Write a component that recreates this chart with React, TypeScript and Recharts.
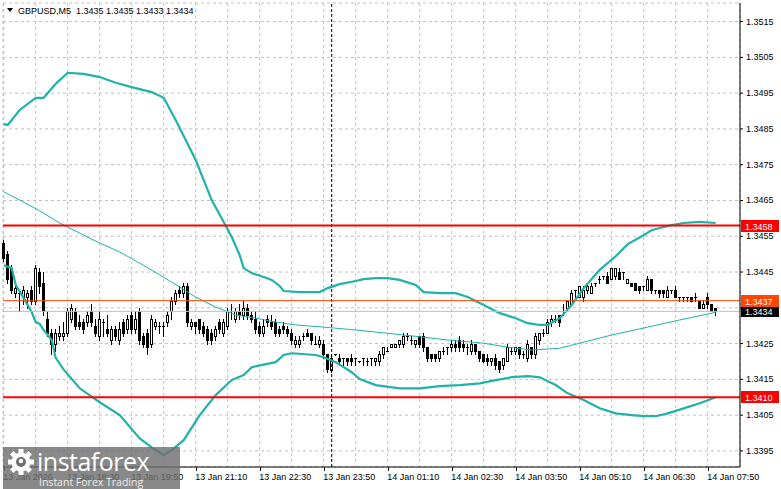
import React from "react";
import { ComposedChart, Bar, Line, XAxis, YAxis, CartesianGrid, ReferenceLine } from "recharts";

const FONT = '"Liberation Sans", Arial, sans-serif';
const TEAL = "#20b2aa";

// M5 candles, 13 Jan 17:10 .. 14 Jan 07:55
const opens = [
  1.3453, 1.3450, 1.3446, 1.3439, 1.3439, 1.3438, 1.3438, 1.3440, 1.3437, 1.3445,
  1.3442, 1.3432, 1.3428, 1.3425, 1.3427, 1.3427, 1.3428, 1.3432, 1.3434, 1.3431,
  1.3431, 1.3431, 1.3434, 1.3430, 1.3427, 1.3431, 1.3429, 1.3426, 1.3429, 1.3426,
  1.3431, 1.3429, 1.3433, 1.3429, 1.3434, 1.3427, 1.3428, 1.3425, 1.3430, 1.3430,
  1.3430, 1.3431, 1.3434, 1.3437, 1.3440, 1.3439, 1.3441, 1.3430, 1.3431, 1.3432,
  1.3430, 1.3429, 1.3428, 1.3427, 1.3431, 1.3428, 1.3430, 1.3434, 1.3432, 1.3434,
  1.3433, 1.3435, 1.3433, 1.3432, 1.3430, 1.3428, 1.3432, 1.3431, 1.3431, 1.3429,
  1.3430, 1.3429, 1.3428, 1.3425, 1.3425, 1.3427, 1.3428, 1.3428, 1.3425, 1.3425,
  1.3425, 1.3422, 1.34175, 1.3422, 1.3421, 1.3421, 1.3421, 1.3421, 1.3421, 1.3420,
  1.3421, 1.3420, 1.3421, 1.3420, 1.3420, 1.3422, 1.3423, 1.3424, 1.3424, 1.3425,
  1.3425, 1.3427, 1.3426, 1.3425, 1.3427, 1.3427, 1.3424, 1.3422, 1.3422, 1.3421,
  1.3423, 1.3424, 1.3424, 1.3425, 1.3426, 1.3425, 1.3424, 1.3423, 1.3425, 1.3423,
  1.3422, 1.3421, 1.3420, 1.3421, 1.3420, 1.3419, 1.3420, 1.3423, 1.3423, 1.3424,
  1.3422, 1.3421, 1.3424, 1.3422, 1.3426, 1.3428, 1.3428, 1.3431, 1.3432, 1.3433,
  1.3434, 1.3435, 1.3436, 1.3440, 1.3438, 1.3438, 1.3440, 1.3439, 1.3442, 1.3443,
  1.3444, 1.3444, 1.3443, 1.3444, 1.3445, 1.3445, 1.3442, 1.3442, 1.3442, 1.3441,
  1.3441, 1.3440, 1.3443, 1.3440, 1.3440, 1.3440, 1.3438, 1.3440, 1.3440, 1.3438,
  1.3438, 1.3438, 1.3438, 1.3438, 1.3437, 1.3435, 1.3438, 1.3436, 1.3435,
];
const highs = [
  1.3454, 1.3451, 1.3447, 1.3441, 1.3440, 1.3441, 1.3440, 1.3441, 1.3447, 1.3446,
  1.3445, 1.3434, 1.3429, 1.3429, 1.3430, 1.3431, 1.3435, 1.3436, 1.3435, 1.3433,
  1.3432, 1.3434, 1.3436, 1.3432, 1.3434, 1.3432, 1.3433, 1.3430, 1.3430, 1.3431,
  1.3432, 1.3433, 1.3434, 1.3434, 1.3435, 1.3428, 1.3429, 1.3433, 1.3432, 1.3431,
  1.3431, 1.3434, 1.3438, 1.3440, 1.3441, 1.3442, 1.3442, 1.3432, 1.3431, 1.3432,
  1.3431, 1.3430, 1.3429, 1.3430, 1.3432, 1.3432, 1.3435, 1.3436, 1.3435, 1.3436,
  1.3437, 1.3436, 1.3434, 1.3434, 1.3431, 1.3432, 1.3433, 1.3433, 1.3432, 1.3430,
  1.3431, 1.3430, 1.3429, 1.3427, 1.3427, 1.3428, 1.3429, 1.3428, 1.3427, 1.3427,
  1.3426, 1.3422, 1.3422, 1.3422, 1.3422, 1.3421, 1.3421, 1.3422, 1.3421, 1.3420,
  1.3421, 1.3421, 1.3421, 1.3421, 1.3423, 1.3424, 1.3424, 1.3425, 1.3425, 1.3426,
  1.3428, 1.3428, 1.3427, 1.3426, 1.3427, 1.3428, 1.3424, 1.3422, 1.3422, 1.3423,
  1.3424, 1.3424, 1.3426, 1.3426, 1.3427, 1.3426, 1.3425, 1.3426, 1.3425, 1.3423,
  1.3422, 1.3422, 1.3421, 1.3422, 1.3420, 1.3421, 1.3425, 1.3424, 1.3424, 1.3424,
  1.3423, 1.3426, 1.3424, 1.3428, 1.3428, 1.3429, 1.3432, 1.3433, 1.3433, 1.3433,
  1.3436, 1.3437, 1.3440, 1.3440, 1.3441, 1.3441, 1.3442, 1.3442, 1.3442, 1.3444,
  1.3444, 1.3445, 1.3446, 1.3446, 1.3446, 1.3445, 1.3443, 1.3442, 1.3442, 1.3441,
  1.3441, 1.3444, 1.3443, 1.3440, 1.3440, 1.3440, 1.3441, 1.3440, 1.3441, 1.3438,
  1.3438, 1.3438, 1.3438, 1.3439, 1.3437, 1.3437, 1.3439, 1.3436, 1.3435,
];
const lows = [
  1.3448, 1.3442, 1.3439, 1.3438, 1.3434, 1.3436, 1.3435, 1.3436, 1.3436, 1.3439,
  1.3433, 1.3427, 1.3422, 1.3423, 1.3426, 1.3426, 1.3427, 1.3431, 1.3429, 1.3429,
  1.3428, 1.3430, 1.3430, 1.3427, 1.3426, 1.3427, 1.3427, 1.3425, 1.3426, 1.3425,
  1.3427, 1.3428, 1.3428, 1.3428, 1.3425, 1.3424, 1.3422, 1.3424, 1.3429, 1.3428,
  1.3427, 1.3430, 1.3432, 1.3436, 1.3438, 1.3438, 1.3430, 1.3429, 1.3428, 1.3428,
  1.3427, 1.3425, 1.3425, 1.3426, 1.3428, 1.3427, 1.3429, 1.3432, 1.3431, 1.3432,
  1.3432, 1.3432, 1.3431, 1.3428, 1.3427, 1.3427, 1.3430, 1.3429, 1.3427, 1.3427,
  1.3428, 1.3427, 1.3425, 1.3424, 1.3424, 1.3426, 1.3427, 1.3425, 1.3425, 1.3424,
  1.3421, 1.3417, 1.3417, 1.34218, 1.3419, 1.3419, 1.3419, 1.3419, 1.3419, 1.34198,
  1.3419, 1.3419, 1.3419, 1.3419, 1.3419, 1.3421, 1.34228, 1.3424, 1.3424, 1.3424,
  1.3424, 1.3426, 1.3425, 1.3424, 1.3424, 1.3423, 1.3420, 1.3420, 1.3420, 1.3420,
  1.3422, 1.3422, 1.3423, 1.3423, 1.3423, 1.3423, 1.3422, 1.3422, 1.3422, 1.3420,
  1.34198, 1.3419, 1.3419, 1.3418, 1.3417, 1.3418, 1.3420, 1.3422, 1.3422, 1.3421,
  1.3421, 1.3420, 1.3421, 1.3421, 1.3425, 1.3427, 1.3428, 1.3430, 1.3431, 1.3430,
  1.3433, 1.3434, 1.3436, 1.3438, 1.3438, 1.3437, 1.3439, 1.3439, 1.3441, 1.3442,
  1.3443, 1.3442, 1.3443, 1.3443, 1.3443, 1.3443, 1.3442, 1.3441, 1.3440, 1.3439,
  1.3440, 1.3440, 1.3439, 1.3439, 1.3438, 1.3438, 1.3438, 1.3439, 1.3438, 1.3437,
  1.3437, 1.3437, 1.3437, 1.3437, 1.3435, 1.3435, 1.3435, 1.3434, 1.3433,
];
const closes = [
  1.3449, 1.3443, 1.3440, 1.34405, 1.3439, 1.3440, 1.3439, 1.3437, 1.3446, 1.3441,
  1.3434, 1.3428, 1.3425, 1.3428, 1.3428, 1.3428, 1.3434, 1.3435, 1.3430, 1.3430,
  1.3429, 1.3433, 1.3431, 1.3428, 1.3432, 1.3431, 1.3428, 1.3429, 1.3427, 1.3429,
  1.3428, 1.3432, 1.3429, 1.3432, 1.3426, 1.3425, 1.3424, 1.3432, 1.3431, 1.3430,
  1.3430, 1.3433, 1.3437, 1.3439, 1.3439, 1.3441, 1.3431, 1.3431, 1.3430, 1.3429,
  1.3428, 1.3426, 1.3426, 1.3429, 1.3429, 1.3431, 1.3434, 1.3434, 1.3434, 1.3433,
  1.3435, 1.3433, 1.3432, 1.3429, 1.3428, 1.3430, 1.3431, 1.3430, 1.3428, 1.3428,
  1.3429, 1.3428, 1.3426, 1.3426, 1.3426, 1.3427, 1.3427, 1.3426, 1.3425, 1.3426,
  1.3422, 1.3418, 1.3421, 1.3422, 1.3420, 1.3421, 1.3420, 1.3420, 1.3421, 1.3420,
  1.3421, 1.3420, 1.3421, 1.3421, 1.3422, 1.3424, 1.3423, 1.3425, 1.3425, 1.3426,
  1.3427, 1.3427, 1.3426, 1.3426, 1.3425, 1.3424, 1.3421, 1.3421, 1.3421, 1.3423,
  1.3423, 1.3424, 1.3425, 1.3424, 1.3424, 1.3424, 1.3424, 1.3425, 1.3423, 1.3421,
  1.3420, 1.3420, 1.3421, 1.3419, 1.3418, 1.3421, 1.3424, 1.3423, 1.3424, 1.3422,
  1.3422, 1.3425, 1.3422, 1.3427, 1.3428, 1.3428, 1.3431, 1.3432, 1.3432, 1.3431,
  1.3434, 1.3437, 1.3439, 1.3440, 1.3441, 1.3440, 1.3441, 1.3441, 1.3442, 1.3443,
  1.3444, 1.3442, 1.3446, 1.3446, 1.3443, 1.3445, 1.3443, 1.3441, 1.3440, 1.3440,
  1.3441, 1.3443, 1.3440, 1.3440, 1.3439, 1.3439, 1.3440, 1.3440, 1.3438, 1.3438,
  1.3438, 1.3438, 1.3437, 1.3438, 1.3435, 1.3436, 1.3436, 1.3434, 1.3434,
];

// Bollinger bands, read as [bar index, price]
const upperBand: [number, number][] = [
  [0, 1.34864], [1, 1.34861], [4, 1.34903], [8, 1.34937], [10, 1.34937], [13, 1.34976],
  [16, 1.35007], [20, 1.35004], [24, 1.34995], [28, 1.34979], [32, 1.34967], [37, 1.34953],
  [40, 1.34937], [43, 1.34875], [48, 1.34763], [52, 1.34651], [55, 1.3459], [57, 1.34548],
  [59, 1.34497], [60, 1.34461], [62, 1.34447], [65, 1.34436], [67, 1.34428], [69, 1.34411],
  [70, 1.34397], [74, 1.34394], [79, 1.34394], [81, 1.34405], [84, 1.34416], [88, 1.34425],
  [90, 1.3443], [93, 1.34433], [96, 1.34433], [99, 1.34428], [103, 1.34414], [105, 1.34394],
  [109, 1.34391], [113, 1.34391], [116, 1.3438], [120, 1.34358], [124, 1.34335], [128, 1.34321],
  [131, 1.34307], [134, 1.34302], [136, 1.34302], [139, 1.34321], [142, 1.34358], [145, 1.34405],
  [149, 1.34456], [153, 1.34494], [156, 1.34528], [160, 1.34553], [162, 1.34567], [164, 1.34573],
  [167, 1.34581], [170, 1.34587], [174, 1.3459], [178, 1.34587],
];
const middleBand: [number, number][] = [
  [0, 1.34674], [4, 1.34651], [9, 1.34621], [14, 1.34587], [20, 1.34553], [24, 1.34531],
  [29, 1.34506], [34, 1.34475], [39, 1.34442], [44, 1.34408], [48, 1.3438], [53, 1.34352],
  [58, 1.3433], [63, 1.34321], [68, 1.3431], [73, 1.34302], [80, 1.34296], [88, 1.34288],
  [100, 1.34274], [111, 1.3426], [120, 1.34251], [126, 1.3424], [132, 1.34232], [139, 1.34237],
  [144, 1.34251], [152, 1.34274], [161, 1.34296], [169, 1.34316], [177, 1.34335], [178, 1.34338],
];
const lowerBand: [number, number][] = [
  [0, 1.34469], [2, 1.34461], [3, 1.34414], [5, 1.34377], [7, 1.34338], [8, 1.3431],
  [9, 1.34305], [10, 1.34288], [12, 1.3426], [13, 1.3421], [15, 1.34177], [19, 1.34125],
  [24, 1.34086], [29, 1.3405], [34, 1.33985], [37, 1.3396], [40, 1.33938], [42, 1.33952],
  [45, 1.3398], [49, 1.3405], [53, 1.34106], [57, 1.34148], [60, 1.34162], [62, 1.34184],
  [68, 1.34198], [70, 1.34218], [72, 1.34223], [78, 1.34218], [80, 1.34212], [83, 1.34198],
  [87, 1.3417], [89, 1.34151], [93, 1.34134], [99, 1.34125], [104, 1.34125], [109, 1.34131],
  [114, 1.34134], [119, 1.34139], [123, 1.34148], [127, 1.34156], [131, 1.34159], [134, 1.34156],
  [138, 1.34134], [141, 1.34111], [145, 1.34092], [149, 1.34069], [153, 1.34055], [157, 1.3405],
  [160, 1.34047], [163, 1.34047], [166, 1.34055], [170, 1.34069], [174, 1.34083], [178, 1.341],
];

// one label every 16 bars
const timeLabels = [
  "13 Jan 2026", "13 Jan 18:30", "13 Jan 19:50", "13 Jan 21:10", "13 Jan 22:30", "13 Jan 23:50",
  "14 Jan 01:10", "14 Jan 02:30", "14 Jan 03:50", "14 Jan 05:10", "14 Jan 06:30", "14 Jan 07:50",
];
const priceTicks = [
  1.3395, 1.3405, 1.3415, 1.3425, 1.3435, 1.3445, 1.3455, 1.3465, 1.3475, 1.3485, 1.3495, 1.3505, 1.3515,
];
const redLevels = [1.3458, 1.341];
const orangeLevel = 1.3437;
const bidPrice = 1.3434;
const dayStartBar = 82; // 14 Jan 00:00
const headerText = "GBPUSD,M5  1.3435 1.3435 1.3433 1.3434";

const pick = (band: [number, number][], i: number) => {
  const hit = band.find((p) => p[0] === i);
  return hit ? hit[1] : null;
};

const data = opens.map((o, i) => ({
  i,
  o,
  h: highs[i],
  l: lows[i],
  c: closes[i],
  range: [lows[i], highs[i]],
  up: pick(upperBand, i),
  mid: pick(middleBand, i),
  lo: pick(lowerBand, i),
}));

const gridTicks = Array.from({ length: 23 }, (_, k) => k * 8);

function Candle(props: any) {
  const { x, y, width, height, payload } = props;
  if (x == null || y == null || !payload) return <g />;
  const top = Math.min(y, y + height);
  const bot = Math.max(y, y + height);
  const { o, h, l, c } = payload;
  const span = h - l;
  const toY = (p: number) => (span > 0 ? top + ((h - p) / span) * (bot - top) : top);
  const k = Math.floor(x + width / 2);
  const yH = Math.round(top);
  const yL = Math.round(bot);
  const yO = Math.round(toY(o));
  const yC = Math.round(toY(c));
  const bTop = Math.min(yO, yC);
  const bBot = Math.max(yO, yC);
  return (
    <g>
      <line x1={k + 0.5} x2={k + 0.5} y1={yH} y2={yL + 1} stroke="#000" strokeWidth={1} />
      {c > o ? (
        <rect x={k - 0.5} y={bTop + 0.5} width={2} height={Math.max(bBot - bTop, 1)} fill="#fff" stroke="#000" strokeWidth={1} />
      ) : (
        <rect x={k - 1} y={bTop} width={3} height={bBot - bTop + 1} fill="#000" />
      )}
    </g>
  );
}

function PriceTick({ x, y, payload }: any) {
  const hidden = [orangeLevel, bidPrice, ...redLevels].some((p) => Math.abs(p - payload.value) < 0.00025);
  if (hidden) return <g />;
  return (
    <text x={x} y={y + 3} fontSize={9} fontFamily={FONT} fill="#000" textAnchor="start">
      {payload.value.toFixed(4)}
    </text>
  );
}

function TimeTick({ x, y, payload }: any) {
  if (payload.value % 16 !== 0) return <g />;
  const label = timeLabels[payload.value / 16];
  const px = Math.round(x) + 0.5;
  return (
    <g>
      <line x1={px} x2={px} y1={y} y2={y + 4} stroke="#000" />
      <text x={x - 0.5} y={y + 13} fontSize={9} fontFamily={FONT} fill="#000" textAnchor="start">
        {label}
      </text>
    </g>
  );
}

function PriceTag({ viewBox, price, bg }: any) {
  if (!viewBox) return <g />;
  const x = viewBox.x + viewBox.width + 1;
  const y = Math.round(viewBox.y);
  return (
    <g>
      <rect x={x} y={y - 6} width={38} height={12} fill={bg} />
      <text x={x + 4} y={y + 3.5} fontSize={9} fontFamily={FONT} fill="#fff">
        {price.toFixed(4)}
      </text>
    </g>
  );
}

function Overlay() {
  const teeth = Array.from({ length: 8 }, (_, k) => k * 45);
  return (
    <svg width={781} height={489} style={{ position: "absolute", left: 0, top: 0, pointerEvents: "none" }}>
      <path d="M7 8 L13 8 L10 12 Z" fill="#000" />
      <text x={18} y={14} fontSize={9} fontFamily={FONT} fill="#000" style={{ whiteSpace: "pre" }}>
        {headerText}
      </text>
      <rect x={3} y={447} width={177} height={42} fill="#6f6f6f" opacity={0.82} />
      <g transform="translate(21 462)">
        {teeth.map((a) => (
          <rect key={a} x={-2.5} y={-13} width={5} height={6} fill="#fff" transform={`rotate(${a})`} />
        ))}
        <circle r={9.5} fill="#fff" />
        <circle r={5} fill="#6f6f6f" />
        <circle r={2.2} cy={-1} fill="#fff" />
      </g>
      <text x={37} y={471} fontSize={25} fontFamily='"Open Sans", sans-serif' fill="#fff" letterSpacing={-0.5}>
        instaforex
      </text>
      <text x={39} y={486} fontSize={10.5} fontFamily='"Open Sans", sans-serif' fill="#eee">
        Instant Forex Trading
      </text>
    </svg>
  );
}

export default function App() {
  return (
    <div style={{ position: "absolute", left: 0, top: 0, width: 781, height: 489, background: "#fff" }}>
      <ComposedChart width={781} height={489} data={data} margin={{ top: 3, right: 0, bottom: 0, left: 3 }}>
        <CartesianGrid stroke="#c0c0c0" strokeDasharray="3 3" />
        <XAxis
          dataKey="i"
          type="number"
          domain={[-0.175, 184.075]}
          ticks={gridTicks}
          interval={0}
          height={22}
          tickSize={0}
          tickMargin={0}
          tickLine={false}
          axisLine={{ stroke: "#000" }}
          tick={<TimeTick />}
        />
        <YAxis
          orientation="right"
          domain={[1.33905, 1.35202]}
          ticks={priceTicks}
          interval={0}
          width={41}
          tickSize={3}
          tickMargin={3}
          tickLine={{ stroke: "#000" }}
          axisLine={{ stroke: "#000" }}
          tick={<PriceTick />}
        />
        <YAxis yAxisId="border" orientation="left" width={0} domain={[0, 1]} tick={false} axisLine={{ stroke: "#000" }} />
        <ReferenceLine x={dayStartBar} stroke="#000" strokeDasharray="3 2" />
        <Bar dataKey="range" barSize={3} shape={(p: any) => <Candle {...p} />} isAnimationActive={false} />
        <Line dataKey="up" stroke={TEAL} strokeWidth={2.2} dot={false} connectNulls isAnimationActive={false} />
        <Line dataKey="mid" stroke={TEAL} strokeWidth={1} dot={false} connectNulls isAnimationActive={false} />
        <Line dataKey="lo" stroke={TEAL} strokeWidth={2.2} dot={false} connectNulls isAnimationActive={false} />
        <ReferenceLine y={bidPrice} stroke="#c0c0c0" label={<PriceTag price={bidPrice} bg="#000" />} />
        <ReferenceLine y={orangeLevel} stroke="#ff4500" label={<PriceTag price={orangeLevel} bg="#ff4500" />} />
        {redLevels.map((p) => (
          <ReferenceLine key={p} y={p} stroke="#ff0000" strokeWidth={2} label={<PriceTag price={p} bg="#ff0000" />} />
        ))}
      </ComposedChart>
      <Overlay />
    </div>
  );
}
